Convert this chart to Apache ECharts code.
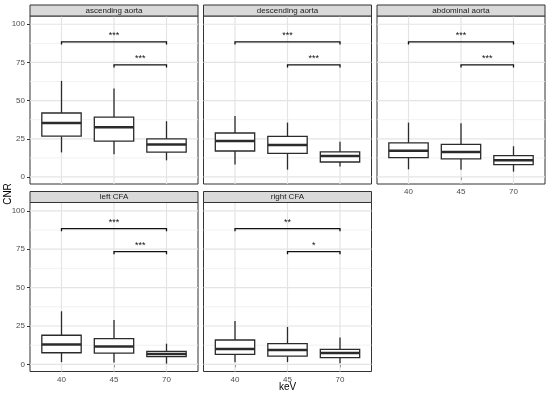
<!DOCTYPE html>
<html>
<head>
<meta charset="utf-8">
<script src="https://cdn.jsdelivr.net/npm/echarts@6/dist/echarts.min.js"></script>
<style>
html,body{margin:0;padding:0;background:#fff;}
#chart{width:550px;height:394px;}
</style>
</head>
<body>
<div id="chart"></div>
<script>
// ---- data ----
const categories = ['40', '45', '70'];
const panelTitles = ['ascending aorta', 'descending aorta', 'abdominal aorta', 'left CFA', 'right CFA'];
const yTicks = [0, 25, 50, 75, 100];
const yMinor = [12.5, 37.5, 62.5, 87.5];
// each box: [lower whisker, Q1, median, Q3, upper whisker]
const ascendingAorta = [[16.1, 26.7, 35.4, 41.9, 62.9], [14.9, 23.5, 32.6, 39.2, 57.9], [10.9, 16.3, 21.2, 24.9, 36.5]];
const descendingAorta = [[8.1, 17.0, 23.6, 28.8, 40.0], [4.8, 15.5, 21.0, 26.6, 35.6], [6.8, 9.8, 13.8, 16.4, 23.1]];
const abdominalAorta = [[5.0, 12.7, 17.2, 22.3, 35.6], [4.8, 11.8, 16.4, 21.4, 35.2], [3.5, 8.1, 10.9, 14.0, 20.1]];
const leftCFA = [[1.5, 7.6, 13.0, 19.0, 34.6], [1.2, 7.4, 11.6, 16.8, 29.0], [0.5, 5.1, 6.8, 8.5, 13.5]];
const rightCFA = [[1.5, 6.5, 10.0, 15.9, 28.3], [1.5, 5.4, 9.4, 13.5, 24.4], [0.7, 4.4, 7.4, 9.8, 17.6]];
const panelData = [ascendingAorta, descendingAorta, abdominalAorta, leftCFA, rightCFA];
// significance brackets: pairs of category positions, bracket heights, labels
const bracketPairs = [[1, 3], [2, 3]];
const bracketHeights = [88.4, 73.4];
const significance = [['***', '***'], ['***', '***'], ['***', '***'], ['***', '***'], ['**', '*']];

// ---- layout ----
const FONT = "'Liberation Sans', Arial, sans-serif";
const Y_MIN = -4.6, Y_MAX = 105.4, X_MIN = 0.4, X_MAX = 3.6;
const grids = [
  {left: 30, top: 16, width: 168, height: 168},
  {left: 203.5, top: 16, width: 168, height: 168},
  {left: 377, top: 16, width: 168, height: 168},
  {left: 30, top: 202.5, width: 168, height: 169},
  {left: 203.5, top: 202.5, width: 168, height: 169}
];
const showX = [false, false, true, true, true];
const showY = [true, false, false, true, false];
const INK = '#2b2b2b';

const option = {
  animation: false,
  backgroundColor: '#fff',
  textStyle: {fontFamily: FONT},
  grid: grids.map(g => Object.assign({show: true, borderColor: '#333333', borderWidth: 1, backgroundColor: '#fff', containLabel: false}, g)),
  xAxis: grids.map((g, i) => ({
    type: 'value', gridIndex: i, min: X_MIN, max: X_MAX,
    axisLine: {show: false}, splitLine: {show: false},
    axisTick: {show: showX[i], customValues: [1, 2, 3], length: 3, lineStyle: {color: '#333333', width: 1}},
    axisLabel: {show: showX[i], customValues: [1, 2, 3], formatter: v => categories[Math.round(v) - 1] || '',
      color: '#4d4d4d', fontSize: 8, margin: 4, fontFamily: FONT}
  })),
  yAxis: grids.map((g, i) => ({
    type: 'value', gridIndex: i, min: Y_MIN, max: Y_MAX,
    axisLine: {show: false}, splitLine: {show: false},
    axisTick: {show: showY[i], customValues: yTicks, length: 3, lineStyle: {color: '#333333', width: 1}},
    axisLabel: {show: showY[i], customValues: yTicks, color: '#4d4d4d', fontSize: 8, margin: 5, fontFamily: FONT}
  })),
  graphic: [],
  series: []
};

// strips and axis titles
grids.forEach((g, i) => {
  option.graphic.push({
    type: 'rect', shape: {x: g.left, y: g.top - 11, width: g.width, height: 11},
    style: {fill: '#d9d9d9', stroke: '#333333', lineWidth: 1}, z: 10
  });
  option.graphic.push({
    type: 'text', x: g.left + g.width / 2, y: g.top - 5.3,
    style: {text: panelTitles[i], fill: '#1a1a1a', fontSize: 8, fontFamily: FONT, align: 'center', verticalAlign: 'middle'}, z: 11
  });
});
option.graphic.push({
  type: 'text', x: 8, y: 194, rotation: Math.PI / 2,
  style: {text: 'CNR', fill: '#000', fontSize: 10, fontFamily: FONT, align: 'center', verticalAlign: 'middle'}
});
option.graphic.push({
  type: 'text', x: 287.5, y: 387.5,
  style: {text: 'keV', fill: '#000', fontSize: 10, fontFamily: FONT, align: 'center', verticalAlign: 'middle'}
});

grids.forEach((g, i) => {
  // horizontal grid lines
  option.series.push({
    type: 'custom', xAxisIndex: i, yAxisIndex: i, z: 1, silent: true,
    data: yTicks.map(v => [v, 1]).concat(yMinor.map(v => [v, 0])),
    renderItem: (params, api) => {
      const v = api.value(0), major = api.value(1);
      const a = api.coord([X_MIN, v]), b = api.coord([X_MAX, v]);
      return {type: 'line', shape: {x1: a[0], y1: a[1], x2: b[0], y2: b[1]},
        style: {stroke: major ? '#e4e4e4' : '#eeeeee', lineWidth: major ? 1.2 : 0.8}};
    }
  });
  // vertical grid lines at categories
  option.series.push({
    type: 'custom', xAxisIndex: i, yAxisIndex: i, z: 1, silent: true,
    data: [[1, 0], [2, 0], [3, 0]],
    renderItem: (params, api) => {
      const x = api.value(0);
      const a = api.coord([x, Y_MIN]), b = api.coord([x, Y_MAX]);
      return {type: 'line', shape: {x1: a[0], y1: a[1], x2: b[0], y2: b[1]},
        style: {stroke: '#e4e4e4', lineWidth: 1.2}};
    }
  });
  // boxes
  option.series.push({
    type: 'custom', xAxisIndex: i, yAxisIndex: i, z: 3, silent: true,
    data: panelData[i].map((b, k) => [k + 1].concat(b)),
    renderItem: (params, api) => {
      const x = api.value(0);
      const lo = api.coord([x, api.value(1)]), q1 = api.coord([x, api.value(2)]),
            md = api.coord([x, api.value(3)]), q3 = api.coord([x, api.value(4)]),
            hi = api.coord([x, api.value(5)]);
      const hw = api.size([0.75, 0])[0] / 2;
      const st = {stroke: INK, lineWidth: 1.3, fill: null};
      return {type: 'group', children: [
        {type: 'line', shape: {x1: hi[0], y1: hi[1], x2: q3[0], y2: q3[1]}, style: st},
        {type: 'line', shape: {x1: q1[0], y1: q1[1], x2: lo[0], y2: lo[1]}, style: st},
        {type: 'rect', shape: {x: q3[0] - hw, y: q3[1], width: 2 * hw, height: q1[1] - q3[1]},
          style: {stroke: INK, lineWidth: 1.3, fill: '#ffffff'}},
        {type: 'line', shape: {x1: md[0] - hw, y1: md[1], x2: md[0] + hw, y2: md[1]},
          style: {stroke: INK, lineWidth: 2.5}}
      ]};
    }
  });
  // significance brackets
  option.series.push({
    type: 'custom', xAxisIndex: i, yAxisIndex: i, z: 4, silent: true,
    data: bracketPairs.map((p, k) => [p[0], p[1], bracketHeights[k]]),
    renderItem: (params, api) => {
      const x1 = api.value(0), x2 = api.value(1), y = api.value(2);
      const a = api.coord([x1, y]), b = api.coord([x2, y]);
      const tip = api.size([0, 1.7])[1];
      const label = significance[i][params.dataIndex];
      return {type: 'group', children: [
        {type: 'polyline', shape: {points: [[a[0], a[1] + tip], [a[0], a[1]], [b[0], b[1]], [b[0], b[1] + tip]]},
          style: {stroke: '#111', lineWidth: 1.3, fill: null}},
        {type: 'text', x: (a[0] + b[0]) / 2, y: a[1] - 6.5,
          style: {text: label, fill: '#111', fontSize: 9, fontFamily: FONT, align: 'center', verticalAlign: 'middle'}}
      ]};
    }
  });
});

const chart = echarts.init(document.getElementById('chart'), null, {renderer: 'canvas', width: 550, height: 394});
chart.setOption(option);
</script>
</body>
</html>
